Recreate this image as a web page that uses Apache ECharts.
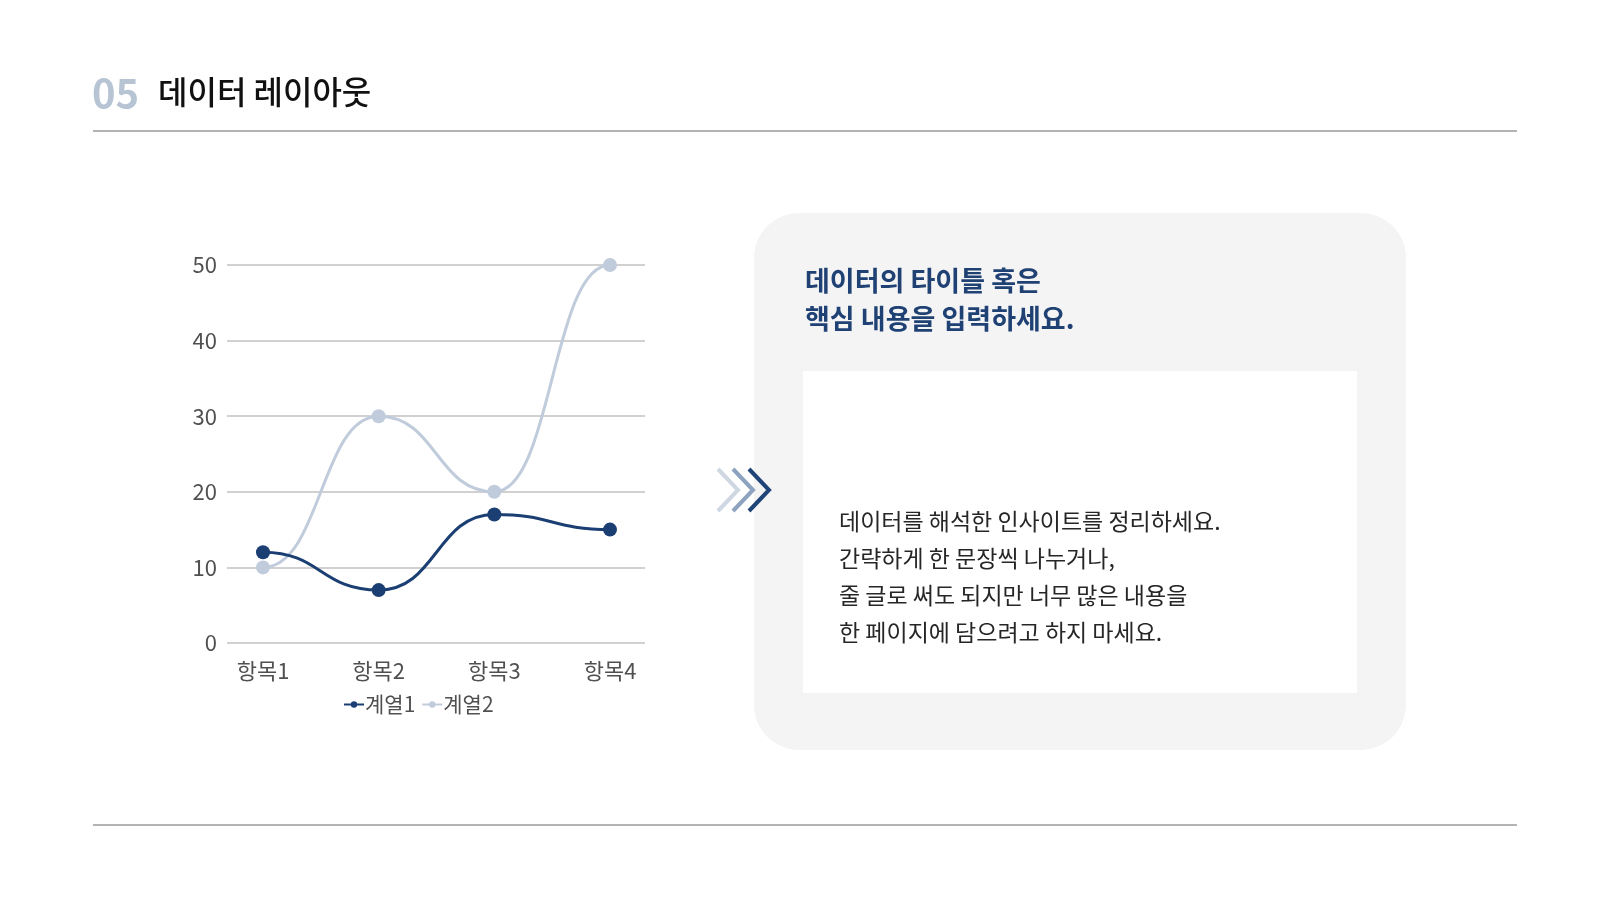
<!DOCTYPE html>
<html><head><meta charset="utf-8">
<script src="https://cdn.jsdelivr.net/npm/echarts@6/dist/echarts.min.js"></script>
<style>html,body{margin:0;padding:0;background:#fff;}#c{width:1600px;height:900px;}</style>
</head><body><div id="c"></div>
<script>
const categories = ['항목1', '항목2', '항목3', '항목4'];
const series1Name = '계열1';
const series1Values = [12, 7, 17, 15];
const series2Name = '계열2';
const series2Values = [10, 30, 20, 50];
const yTicks = [0, 10, 20, 30, 40, 50];
const headerNum = '05';
const headerTitle = '데이터 레이아웃';
const panelTitleLines = ['데이터의 타이틀 혹은', '핵심 내용을 입력하세요.'];
const bodyLines = ['데이터를 해석한 인사이트를 정리하세요.', '간략하게 한 문장씩 나누거나,', '줄 글로 써도 되지만 너무 많은 내용을', '한 페이지에 담으려고 하지 마세요.'];

const FONT = '"Noto Sans CJK KR", "Noto Sans", sans-serif';
const NAVY = '#1b3f73', LIGHT = '#c0ccdc';
const chart = echarts.init(document.getElementById('c'), null, {renderer: 'canvas'});

const graphics = [
  {type: 'text', left: 92, top: 73, style: {text: headerNum, font: 'bold 40px ' + FONT, fill: '#b7c4d3'}},
  {type: 'text', left: 158, top: 76, style: {text: headerTitle, font: '500 32px ' + FONT, fill: '#111'}},
  {type: 'line', shape: {x1: 93, y1: 131, x2: 1517, y2: 131}, style: {stroke: '#b3b3b3', lineWidth: 2}},
  {type: 'line', shape: {x1: 93, y1: 825, x2: 1517, y2: 825}, style: {stroke: '#b3b3b3', lineWidth: 2}},
  {type: 'rect', shape: {x: 754, y: 213, width: 652, height: 537, r: 45}, style: {fill: '#f4f4f5'}},
  {type: 'rect', shape: {x: 803, y: 371, width: 554, height: 322}, style: {fill: '#ffffff'}},
  {type: 'polyline', shape: {points: [[718, 469], [738, 490], [718, 511]]}, style: {stroke: '#cfd7e2', lineWidth: 4, fill: null}},
  {type: 'polyline', shape: {points: [[733, 469], [753, 490], [733, 511]]}, style: {stroke: '#8ea3bf', lineWidth: 4, fill: null}},
  {type: 'polyline', shape: {points: [[749, 469], [769, 490], [749, 511]]}, style: {stroke: '#1f4478', lineWidth: 4, fill: null}}
];
panelTitleLines.forEach((t, i) => graphics.push({type: 'text', left: 805, top: 267 + i * 38,
  style: {text: t, font: 'bold 27px ' + FONT, fill: '#1f4173'}}));
bodyLines.forEach((t, i) => graphics.push({type: 'text', left: 839, top: 510 + i * 37,
  style: {text: t, font: '23px ' + FONT, fill: '#262626'}}));

// segments [x, y, prevX, prevY] built from the value arrays
function segs(vals) {
  const out = [];
  for (let i = 1; i < vals.length; i++) out.push([i, vals[i], i - 1, vals[i - 1]]);
  return out;
}
function curve(color) {
  return function (params, api) {
    const p1 = api.coord([api.value(0), api.value(1)]);
    const p0 = api.coord([api.value(2), api.value(3)]);
    const k = 0.5 * (p1[0] - p0[0]);
    return {
      type: 'bezierCurve',
      shape: {x1: p0[0], y1: p0[1], x2: p1[0], y2: p1[1], cpx1: p0[0] + k, cpy1: p0[1], cpx2: p1[0] - k, cpy2: p1[1]},
      style: {stroke: color, lineWidth: 3, fill: null}
    };
  };
}

chart.setOption({
  animation: false,
  graphic: graphics,
  grid: [
    {left: 227, right: 955, top: 265, bottom: 257},
    {left: 263, right: 990, top: 265, bottom: 257}
  ],
  xAxis: [
    {gridIndex: 0, type: 'category', data: categories, show: false},
    {gridIndex: 1, type: 'category', data: categories, boundaryGap: false,
     axisLine: {show: false}, axisTick: {show: false},
     axisLabel: {fontSize: 22, color: '#505050', margin: 17, fontFamily: FONT}}
  ],
  yAxis: [
    {gridIndex: 0, type: 'value', min: yTicks[0], max: yTicks[yTicks.length - 1], interval: yTicks[1] - yTicks[0],
     axisLine: {show: false}, axisTick: {show: false},
     axisLabel: {fontSize: 22, color: '#505050', margin: 10, fontFamily: FONT},
     splitLine: {lineStyle: {color: '#c2c2c2', width: 1.5}}},
    {gridIndex: 1, type: 'value', min: yTicks[0], max: yTicks[yTicks.length - 1], interval: yTicks[1] - yTicks[0], show: false}
  ],
  legend: {
    data: [
      {name: series1Name, lineStyle: {color: NAVY, width: 2, opacity: 1}},
      {name: series2Name, lineStyle: {color: LIGHT, width: 2, opacity: 1}}
    ],
    left: 338, top: 689, itemGap: 6,
    itemWidth: 20, itemHeight: 8,
    textStyle: {fontSize: 21, color: '#505050', fontFamily: FONT, padding: [0, 0, 0, -4]}
  },
  series: [
    {name: 'c2', type: 'custom', xAxisIndex: 1, yAxisIndex: 1, data: segs(series2Values), renderItem: curve(LIGHT), z: 1, silent: true},
    {name: 'c1', type: 'custom', xAxisIndex: 1, yAxisIndex: 1, data: segs(series1Values), renderItem: curve(NAVY), z: 2, silent: true},
    {name: series2Name, type: 'line', xAxisIndex: 1, yAxisIndex: 1, data: series2Values,
     symbol: 'circle', symbolSize: 14, lineStyle: {color: LIGHT, width: 3, opacity: 0}, itemStyle: {color: LIGHT}, z: 3},
    {name: series1Name, type: 'line', xAxisIndex: 1, yAxisIndex: 1, data: series1Values,
     symbol: 'circle', symbolSize: 14, lineStyle: {color: NAVY, width: 3, opacity: 0}, itemStyle: {color: NAVY}, z: 4}
  ]
});
</script></body></html>
